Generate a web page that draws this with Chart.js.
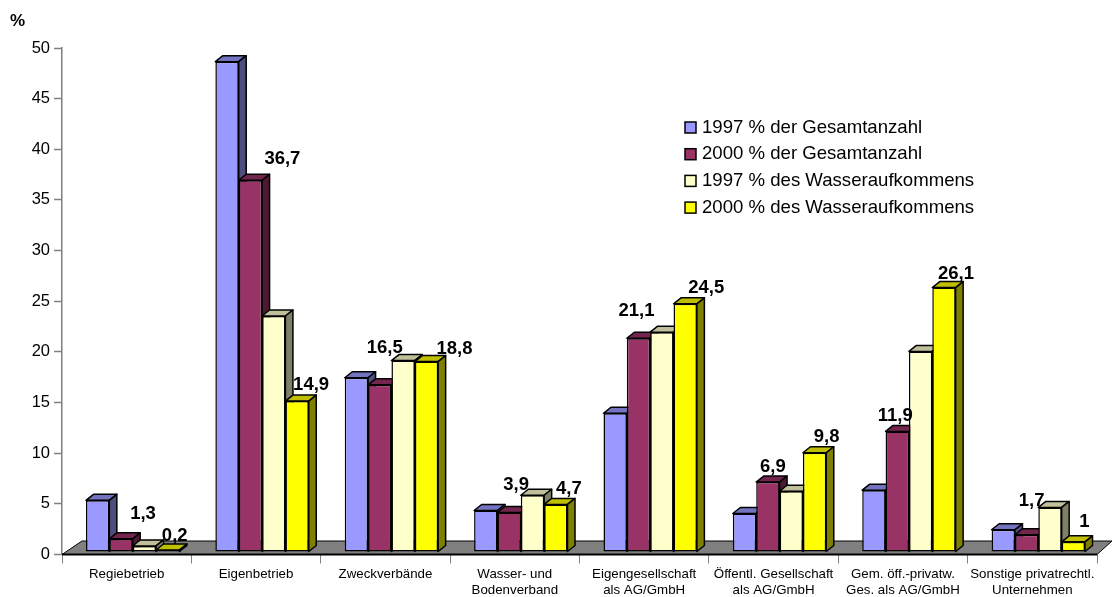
<!DOCTYPE html>
<html>
<head>
<meta charset="utf-8">
<title>Unternehmensformen</title>
<script src="https://cdn.jsdelivr.net/npm/chart.js@4"></script>
<style>
    html, body { margin: 0; padding: 0; background: #ffffff; }
    #wrap { width: 1112px; height: 597px; }
</style>
</head>
<body>
<div id="wrap"><canvas id="myChart"></canvas></div>
<script>
const categories = [
    'Regiebetrieb',
    'Eigenbetrieb',
    'Zweckverbände',
    ['Wasser- und', 'Bodenverband'],
    ['Eigengesellschaft', 'als AG/GmbH'],
    ['Öffentl. Gesellschaft', 'als AG/GmbH'],
    ['Gem. öff.-privatw.', 'Ges. als AG/GmbH'],
    ['Sonstige privatrechtl.', 'Unternehmen']
];
const seriesNames = [
    '1997 % der Gesamtanzahl',
    '2000 % der Gesamtanzahl',
    '1997 % des Wasseraufkommens',
    '2000 % des Wasseraufkommens'
];
const gesamt1997 = [5.1, 48.4, 17.2, 4.1, 13.7, 3.8, 6.1, 2.2];
const gesamt2000 = [1.3, 36.7, 16.5, 3.9, 21.1, 6.9, 11.9, 1.7];
const wasser1997 = [0.6, 23.3, 18.9, 5.6, 21.7, 6.0, 19.8, 4.4];
const wasser2000 = [0.2, 14.9, 18.8, 4.7, 24.5, 9.8, 26.1, 1.0];

// front colour, top face, side face
const colors = ['#9999FF', '#993366', '#FFFFCC', '#FFFF00'];
const topColors = ['#7373BF', '#73264D', '#BFBF99', '#BFBF00'];
const sideColors = ['#4D4D80', '#4D1A33', '#808066', '#808000'];

// hand placed labels in the original, offset from the bar's top centre
const labelShift = {
    1: [[22, -25], [32, -21], [5, -37], [7, -28], [-2, -27], [5, -15], [-2, -16], [5, -34]],
    3: [[7, -14], [14, -16], [28, -13], [13, -15], [21, -16], [12, -16], [12, -14], [11, -20]]
};

const depthX = 7.5, depthY = -6; // depth of one bar
const frontX = 6, frontY = -2.5; // bars stand a little behind the axis line
const floorX = 20, floorY = -13.5;

function poly(ctx, pts, fill) {
    ctx.beginPath();
    pts.forEach((p, i) => i ? ctx.lineTo(p[0], p[1]) : ctx.moveTo(p[0], p[1]));
    ctx.closePath();
    ctx.fillStyle = fill;
    ctx.fill();
    ctx.stroke();
}

const bars3d = {
    id: 'bars3d',
    // the datasets are drawn below, left bar first so the next one covers its side
    beforeDatasetDraw() {
        return false;
    },
    beforeDatasetsDraw(chart) {
        const ctx = chart.ctx;
        const x = chart.scales.x;
        const y0 = chart.scales.y.getPixelForValue(0);
        ctx.save();
        ctx.strokeStyle = '#000000';
        ctx.lineWidth = 1;
        poly(ctx, [[x.left, y0], [x.left + floorX, y0 + floorY], [x.right + floorX - 5, y0 + floorY], [x.right, y0]], '#808080');
        ctx.lineWidth = 2;
        ctx.beginPath();
        ctx.moveTo(x.left, y0);
        ctx.lineTo(x.right, y0);
        ctx.stroke();
        ctx.restore();
    },
    afterDatasetsDraw(chart) {
        const ctx = chart.ctx;
        ctx.save();
        ctx.translate(frontX, frontY);
        ctx.strokeStyle = '#000000';
        ctx.lineWidth = 1.5;
        ctx.lineJoin = 'round';
        chart.data.datasets.forEach((ds, i) => {
            chart.getDatasetMeta(i).data.forEach(bar => {
                const p = bar.getProps(['x', 'y', 'base', 'width'], true);
                const l = p.x - p.width / 2, r = p.x + p.width / 2;
                poly(ctx, [[l, p.y], [l + depthX, p.y + depthY], [r + depthX, p.y + depthY], [r, p.y]], topColors[i]);
                poly(ctx, [[r, p.y], [r + depthX, p.y + depthY], [r + depthX, p.base + depthY], [r, p.base]], sideColors[i]);
                bar.draw(ctx);
            });
        });

        // value labels, only the 2000 series carry them
        ctx.fillStyle = '#000000';
        ctx.font = 'bold 18.5px "Liberation Sans", Arial, sans-serif';
        ctx.textAlign = 'center';
        ctx.textBaseline = 'middle';
        Object.keys(labelShift).forEach(i => {
            const values = chart.data.datasets[i].data;
            chart.getDatasetMeta(i).data.forEach((bar, j) => {
                const p = bar.getProps(['x', 'y'], true);
                ctx.fillText(String(values[j]).replace('.', ','), p.x + labelShift[i][j][0], p.y + labelShift[i][j][1]);
            });
        });
        ctx.restore();

        // legend and the unit above the axis
        ctx.save();
        ctx.font = 'bold 17px "Liberation Sans", Arial, sans-serif';
        ctx.fillStyle = '#000000';
        ctx.textBaseline = 'middle';
        ctx.fillText('%', 10, 21);
        ctx.font = '18.6px "Liberation Sans", Arial, sans-serif';
        ctx.strokeStyle = '#000000';
        ctx.lineWidth = 1.5;
        seriesNames.forEach((name, i) => {
            const top = 122 + i * 26.7;
            ctx.fillStyle = colors[i];
            ctx.fillRect(685, top, 11, 11);
            ctx.strokeRect(685, top, 11, 11);
            ctx.fillStyle = '#000000';
            ctx.fillText(name, 702, top + 5.5);
        });
        ctx.restore();
    }
};

const series = [gesamt1997, gesamt2000, wasser1997, wasser2000];

new Chart(document.getElementById('myChart'), {
    type: 'bar',
    data: {
        labels: categories,
        datasets: series.map((values, i) => ({
            label: seriesNames[i],
            data: values,
            backgroundColor: colors[i],
            borderColor: '#000000',
            borderWidth: 1.5,
            borderSkipped: false,
            categoryPercentage: 0.722,
            barPercentage: 1
        }))
    },
    options: {
        responsive: true,
        maintainAspectRatio: false,
        animation: false,
        layout: { padding: { top: 48, right: 15 } },
        plugins: {
            legend: { display: false },
            tooltip: { enabled: false }
        },
        scales: {
            x: {
                afterFit: scale => { scale.height = 42.5; },
                grid: { drawOnChartArea: false, tickLength: 9, tickColor: '#808080' },
                border: { color: '#808080' },
                ticks: {
                    color: '#000000',
                    padding: 3,
                    maxRotation: 0,
                    autoSkip: false,
                    font: { family: '"Liberation Sans", Arial, sans-serif', size: 13.3 }
                }
            },
            y: {
                min: 0,
                max: 50,
                afterFit: scale => { scale.width = 62; },
                grid: { drawOnChartArea: false, tickLength: 8, tickColor: '#808080', tickWidth: 1.5 },
                border: { color: '#808080', width: 1.5 },
                ticks: {
                    stepSize: 5,
                    color: '#000000',
                    padding: 4,
                    font: { family: '"Liberation Sans", Arial, sans-serif', size: 16.5 }
                }
            }
        }
    },
    plugins: [bars3d]
});
</script>
</body>
</html>
